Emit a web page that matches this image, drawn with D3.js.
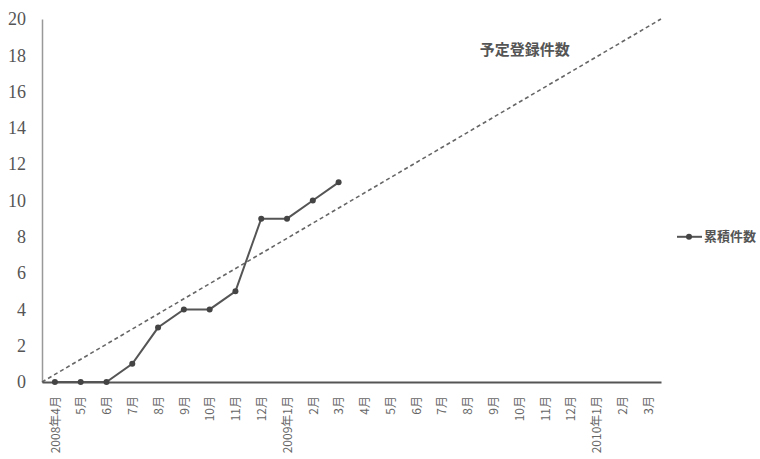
<!DOCTYPE html>
<html>
<head>
<meta charset="utf-8">
<script src="https://cdn.jsdelivr.net/npm/d3@7"></script>
<style>
  body { margin: 0; background: #fff; }
  svg { display: block; }
</style>
</head>
<body>
<div id="chart"></div>
<script>
// months on the x axis
var months = ["2008年4月","5月","6月","7月","8月","9月","10月","11月","12月",
              "2009年1月","2月","3月","4月","5月","6月","7月","8月","9月","10月","11月","12月",
              "2010年1月","2月","3月"];
// cumulative count (累積件数), one per month so far
var cumulative = [0,0,0,1,3,4,4,5,9,9,10,11];
// planned registrations (予定登録件数): start and end of the period
var planned = [0, 20];
var yTicks = [0,2,4,6,8,10,12,14,16,18,20];

var W = 760, H = 459;
var margin = {top: 19, right: 99, bottom: 77, left: 42};
var width = W - margin.left - margin.right,
    height = H - margin.top - margin.bottom;

var svg = d3.select("#chart").append("svg")
  .attr("width", W).attr("height", H)
  .append("g")
  .attr("transform", `translate(${margin.left}, ${margin.top})`);

// x: one band per month, points in the middle
var x = d3.scalePoint()
  .domain(d3.range(months.length))
  .range([0, width])
  .padding(0.5);

// plan line runs over the whole axis
var xp = d3.scaleLinear().domain([0, planned.length - 1]).range([0, width]);

var y = d3.scaleLinear().domain([0, 20]).range([height, 0]);

// Y axis
var yAxis = svg.append("g")
  .call(d3.axisLeft(y).tickValues(yTicks).tickSize(0).tickPadding(16));
yAxis.select(".domain").attr("stroke", "#999").attr("stroke-width", 1.5);
yAxis.selectAll("text")
  .attr("font-family", "'Liberation Serif', 'DejaVu Serif', serif")
  .attr("font-size", 18)
  .attr("fill", "#555");

// planned dashed line
svg.append("path")
  .datum(planned)
  .attr("fill", "none")
  .attr("stroke", "#666")
  .attr("stroke-width", 1.6)
  .attr("stroke-dasharray", "4,3")
  .attr("d", d3.line().x((d, i) => xp(i)).y(d => y(d)));

// X axis
var xAxis = svg.append("g")
  .attr("transform", `translate(0, ${height})`)
  .call(d3.axisBottom(x).tickFormat(i => months[i]).tickSize(0).tickPadding(10));
xAxis.select(".domain").attr("stroke", "#555").attr("stroke-width", 2);
xAxis.selectAll("text")
  .attr("transform", "rotate(-90)")
  .attr("text-anchor", "end")
  .attr("dy", "0.35em")
  .attr("x", -14)
  .attr("y", 0)
  .attr("font-family", "'Noto Sans CJK JP', sans-serif")
  .attr("font-size", 12)
  .attr("fill", "#666");

// cumulative line
svg.append("path")
  .datum(cumulative)
  .attr("fill", "none")
  .attr("stroke", "#555")
  .attr("stroke-width", 2)
  .attr("d", d3.line().x((d, i) => x(i)).y(d => y(d)));

svg.selectAll(".dot")
  .data(cumulative)
  .enter()
  .append("circle")
    .attr("cx", (d, i) => x(i))
    .attr("cy", d => y(d))
    .attr("r", 3)
    .attr("fill", "#444");

// plan label
svg.append("text")
  .attr("x", xp(0.78))
  .attr("y", y(18))
  .attr("text-anchor", "middle")
  .attr("font-family", "'Noto Sans CJK JP', sans-serif")
  .attr("font-size", 15)
  .attr("font-weight", "bold")
  .attr("fill", "#555")
  .text("予定登録件数");

// legend
var lg = svg.append("g").attr("transform", `translate(${width + 16}, ${y(8)})`);
lg.append("line").attr("x1", 0).attr("x2", 25).attr("y1", 0).attr("y2", 0)
  .attr("stroke", "#555").attr("stroke-width", 2);
lg.append("circle").attr("cx", 12).attr("cy", 0).attr("r", 3).attr("fill", "#444");
lg.append("text")
  .attr("x", 27).attr("y", 0).attr("dy", "0.35em")
  .attr("font-family", "'Noto Sans CJK JP', sans-serif")
  .attr("font-size", 13)
  .attr("font-weight", "bold")
  .attr("fill", "#555")
  .text("累積件数");
</script>
</body>
</html>
